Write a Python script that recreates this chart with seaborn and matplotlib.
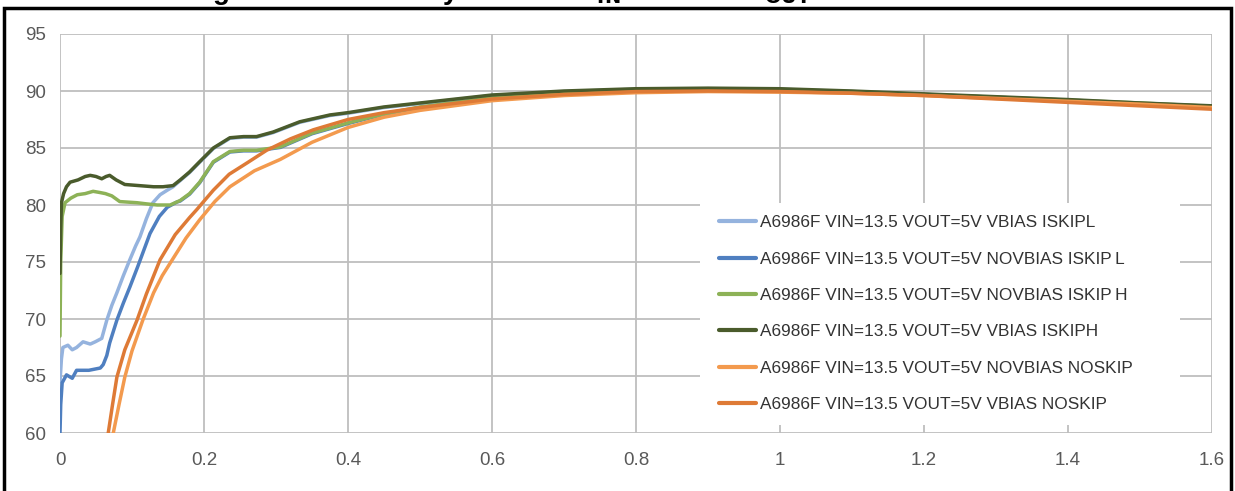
import matplotlib
matplotlib.use("Agg")
import matplotlib.pyplot as plt
import seaborn as sns
import numpy as np
import pandas as pd
from matplotlib.patches import Rectangle

# ---- data (output current A, efficiency %) ----
tail_x = [0.5, 0.6, 0.7, 0.8, 0.9, 1.0, 1.1, 1.2, 1.3, 1.4, 1.5, 1.6]

vbias_iskiph_x = [0, 0.001, 0.002, 0.005, 0.009, 0.014, 0.025, 0.035, 0.042, 0.05, 0.058,
                  0.064, 0.069, 0.078, 0.09, 0.11, 0.13, 0.143, 0.157, 0.167, 0.18, 0.194,
                  0.213, 0.236, 0.255, 0.273, 0.296, 0.333, 0.375, 0.4, 0.45] + tail_x
vbias_iskiph_y = [74, 78, 80.2, 81.0, 81.6, 82.0, 82.2, 82.5, 82.6, 82.5, 82.3,
                  82.5, 82.6, 82.2, 81.8, 81.7, 81.6, 81.6, 81.7, 82.2, 82.9, 83.8,
                  85.0, 85.9, 86.0, 86.0, 86.4, 87.3, 87.9, 88.1, 88.6,
                  88.95, 89.65, 90.0, 90.2, 90.25, 90.2, 90.0, 89.75, 89.5, 89.25, 88.95, 88.7]

novbias_iskiph_x = [0, 0.001, 0.003, 0.007, 0.015, 0.024, 0.035, 0.046, 0.055, 0.063, 0.072,
                    0.083, 0.095, 0.107, 0.12, 0.135, 0.153, 0.167, 0.18, 0.194, 0.213, 0.236,
                    0.255, 0.273, 0.306, 0.35, 0.4, 0.45] + tail_x
novbias_iskiph_y = [68.5, 75, 79.0, 80.2, 80.6, 80.9, 81.0, 81.2, 81.1, 81.0, 80.8,
                    80.3, 80.25, 80.2, 80.1, 80.0, 80.0, 80.4, 81.0, 82.0, 83.8, 84.7,
                    84.8, 84.8, 85.1, 86.3, 87.2, 88.0,
                    88.6, 89.4, 89.85, 90.1, 90.2, 90.1, 89.95, 89.7, 89.45, 89.2, 88.95, 88.65]

# light blue merges into the dark green curve at ~0.155 A and runs hidden under it
vbias_iskipl_x = [0, 0.002, 0.004, 0.011, 0.017, 0.023, 0.032, 0.042, 0.049, 0.058, 0.065,
                  0.072, 0.079, 0.088, 0.097, 0.105, 0.111, 0.12, 0.129, 0.139, 0.149, 0.157,
                  0.167, 0.18, 0.194, 0.213, 0.236, 0.255, 0.273, 0.296, 0.333, 0.375, 0.4,
                  0.45] + tail_x
vbias_iskipl_y = [64.5, 66.5, 67.5, 67.7, 67.3, 67.5, 68.0, 67.8, 68.0, 68.3, 69.9,
                  71.2, 72.3, 73.8, 75.2, 76.4, 77.2, 78.8, 80.2, 80.9, 81.3, 81.6,
                  82.15, 82.85, 83.75, 84.95, 85.85, 85.95, 85.95, 86.35, 87.25, 87.85, 88.05,
                  88.55,
                  88.9, 89.6, 89.95, 90.15, 90.2, 90.15, 89.95, 89.7, 89.45, 89.2, 88.9, 88.65]

# dark blue merges into the light green curve at ~0.16 A
novbias_iskipl_x = [0, 0.001, 0.003, 0.009, 0.017, 0.023, 0.04, 0.056, 0.06, 0.065, 0.069,
                    0.079, 0.088, 0.097, 0.108, 0.125, 0.138, 0.149, 0.162, 0.167, 0.18,
                    0.194, 0.213, 0.236, 0.255, 0.273, 0.306, 0.35, 0.4, 0.45] + tail_x
novbias_iskipl_y = [60, 62.5, 64.4, 65.1, 64.8, 65.5, 65.5, 65.7, 66.0, 66.8, 67.9,
                    69.9, 71.4, 72.8, 74.6, 77.5, 79.0, 79.8, 80.25, 80.35, 80.95,
                    81.95, 83.75, 84.65, 84.75, 84.75, 85.05, 86.25, 87.15, 87.95,
                    88.55, 89.35, 89.8, 90.05, 90.15, 90.05, 89.9, 89.65, 89.4, 89.15, 88.9, 88.6]

novbias_noskip_x = [0.074, 0.082, 0.09, 0.1, 0.115, 0.13, 0.142, 0.156, 0.175, 0.194, 0.215,
                    0.236, 0.27, 0.306, 0.35, 0.4, 0.45] + tail_x
novbias_noskip_y = [60, 62.5, 64.9, 67.2, 69.9, 72.3, 73.8, 75.2, 77.1, 78.7, 80.3,
                    81.6, 83.0, 84.0, 85.5, 86.8, 87.7,
                    88.3, 89.15, 89.6, 89.85, 89.95, 89.9, 89.8, 89.6, 89.35, 89.1, 88.85, 88.55]

vbias_noskip_x = [0.067, 0.073, 0.079, 0.09, 0.107, 0.12, 0.139, 0.16, 0.18, 0.19, 0.213,
                  0.235, 0.26, 0.287, 0.32, 0.352, 0.4, 0.45] + tail_x
vbias_noskip_y = [60, 62.5, 64.9, 67.3, 69.9, 72.2, 75.2, 77.4, 78.9, 79.6, 81.3,
                  82.7, 83.7, 84.8, 85.8, 86.6, 87.5, 88.1,
                  88.55, 89.3, 89.7, 89.95, 90.0, 89.95, 89.8, 89.6, 89.3, 89.0, 88.7, 88.4]

series = [
    ("A6986F VIN=13.5 VOUT=5V VBIAS ISKIPL", vbias_iskipl_x, vbias_iskipl_y, "#95B3DE"),
    ("A6986F VIN=13.5 VOUT=5V NOVBIAS ISKIP\u2009L", novbias_iskipl_x, novbias_iskipl_y, "#4F7FC0"),
    ("A6986F VIN=13.5 VOUT=5V NOVBIAS ISKIP\u2009H", novbias_iskiph_x, novbias_iskiph_y, "#8DB257"),
    ("A6986F VIN=13.5 VOUT=5V VBIAS ISKIPH", vbias_iskiph_x, vbias_iskiph_y, "#4A5B2C"),
    ("A6986F VIN=13.5 VOUT=5V NOVBIAS NOSKIP", novbias_noskip_x, novbias_noskip_y, "#F39A4E"),
    ("A6986F VIN=13.5 VOUT=5V VBIAS NOSKIP", vbias_noskip_x, vbias_noskip_y, "#DE7A36"),
]

x_ticks = [0, 0.2, 0.4, 0.6, 0.8, 1.0, 1.2, 1.4, 1.6]
x_labels = ["0", "0.2", "0.4", "0.6", "0.8", "1", "1.2", "1.4", "1.6"]
y_ticks = [60, 65, 70, 75, 80, 85, 90, 95]

sns.set_theme(style="whitegrid")
plt.rcParams['font.family'] = ['Liberation Sans', 'DejaVu Sans']

fig = plt.figure(figsize=(12.35, 4.91), dpi=100)
ax = fig.add_axes([60 / 1235, 1 - 433 / 491, 1152 / 1235, 399 / 491])
ax.set_facecolor("white")

for name, xs, ys, col in series:
    df = pd.DataFrame({"x": xs, "y": ys})
    sns.lineplot(data=df, x="x", y="y", ax=ax, color=col, linewidth=2.5,
                 label=name, sort=False, estimator=None, zorder=3)

ax.set_xlim(0, 1.6)
ax.set_ylim(60, 95)
ax.set_xticks(x_ticks)
ax.set_xticklabels(x_labels)
ax.set_yticks(y_ticks)
ax.set_xlabel("")
ax.set_ylabel("")
ax.grid(True, color="#BEBEBE", linewidth=1.3)
for s in ax.spines.values():
    s.set_visible(False)
ax.tick_params(axis="both", colors="#BEBEBE", labelcolor="#595959", length=6,
               width=1.2, labelsize=13.5, pad=4)
ax.tick_params(axis="x", pad=8)
for lbl in ax.get_xticklabels():
    lbl.set_family(['Liberation Sans Narrow', 'Liberation Sans'])
    lbl.set_fontsize(13.5)

# white legend background
ax.add_patch(Rectangle((0.5556, 0.02), 0.4164, 0.556, transform=ax.transAxes,
                       facecolor="white", edgecolor="none", zorder=1))
leg = ax.legend(loc="upper left", bbox_to_anchor=(0.572, 0.546), frameon=False,
                fontsize=12.4, handlelength=2.15, handletextpad=0.23,
                labelspacing=1.24, borderpad=0, borderaxespad=0)
for t in leg.get_texts():
    t.set_color("#333333")
for h in leg.get_lines():
    h.set_linewidth(3)

# caption of the figure, clipped by the top edge as in the source
fig.text(188 / 1235, 1 + 1 / 491,
         r"Figure 10. Efficiency vs Load V$_\mathbf{IN}$=13.5V & V$_\mathbf{OUT}$=5V",
         fontsize=20, fontweight="bold", ha="left", va="baseline", color="black")

# black frame around the chart
fig.add_artist(Rectangle((4 / 1235, -0.05), 1227 / 1235, 1.05 - 8 / 491,
                         transform=fig.transFigure, fill=False, edgecolor="black",
                         linewidth=2.5))

fig.savefig("out.png", dpi=100, facecolor="white")
